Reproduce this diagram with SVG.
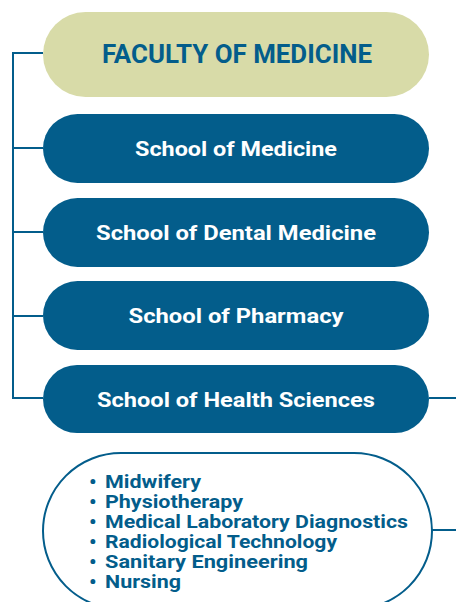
<svg xmlns="http://www.w3.org/2000/svg" width="456" height="602" viewBox="0 0 456 602">
<style>
.pill{fill:#035d8b}
.lbl{font-family:Roboto,"Liberation Sans",sans-serif;font-weight:bold;font-size:20.5px;fill:#fff;text-anchor:middle}
.ln{stroke:#035d8b;stroke-width:2;fill:none}
.li{font-family:Roboto,"Liberation Sans",sans-serif;font-weight:bold;font-size:19px;fill:#035d8b}
.b{font-size:21px}
</style>
<rect width="456" height="602" fill="#fff"/>
<g id="connectors">
<path class="ln" d="M43 53H13V398H43M13 148H43M13 232H43M13 316H43"/>
<path class="ln" d="M429 398H456M432 530H456"/>
</g>
<g id="faculty">
<rect x="43" y="12" width="386" height="85" rx="42.5" fill="#d8dba8"/>
<text x="237" y="63" font-family="Roboto,'Liberation Sans',sans-serif" font-weight="bold" font-size="25" fill="#035d8b" text-anchor="middle" textLength="270" lengthAdjust="spacingAndGlyphs">FACULTY OF MEDICINE</text>
</g>
<g id="school-medicine">
<rect class="pill" x="43" y="114" width="386" height="69" rx="34.5"/>
<text class="lbl" x="236" y="156" textLength="202" lengthAdjust="spacingAndGlyphs">School of Medicine</text>
</g>
<g id="school-dental">
<rect class="pill" x="43" y="198" width="386" height="69" rx="34.5"/>
<text class="lbl" x="236" y="240" textLength="280" lengthAdjust="spacingAndGlyphs">School of Dental Medicine</text>
</g>
<g id="school-pharmacy">
<rect class="pill" x="43" y="281" width="386" height="69" rx="34.5"/>
<text class="lbl" x="236" y="323" textLength="215" lengthAdjust="spacingAndGlyphs">School of Pharmacy</text>
</g>
<g id="school-health">
<rect class="pill" x="43" y="365" width="386" height="68" rx="34"/>
<text class="lbl" x="236" y="407" textLength="278" lengthAdjust="spacingAndGlyphs">School of Health Sciences</text>
</g>
<g id="programs">
<rect class="ln" x="43" y="453" width="389" height="156" rx="78"/>
<text class="li"><tspan class="b" x="89" y="489">•</tspan><tspan x="105" y="488" textLength="96" lengthAdjust="spacingAndGlyphs">Midwifery</tspan><tspan class="b" x="89" y="509">•</tspan><tspan x="105" y="508" textLength="138" lengthAdjust="spacingAndGlyphs">Physiotherapy</tspan><tspan class="b" x="89" y="529">•</tspan><tspan x="105" y="528" textLength="303" lengthAdjust="spacingAndGlyphs">Medical Laboratory Diagnostics</tspan><tspan class="b" x="89" y="549">•</tspan><tspan x="105" y="548" textLength="232" lengthAdjust="spacingAndGlyphs">Radiological Technology</tspan><tspan class="b" x="89" y="569">•</tspan><tspan x="105" y="568" textLength="203" lengthAdjust="spacingAndGlyphs">Sanitary Engineering</tspan><tspan class="b" x="89" y="589">•</tspan><tspan x="105" y="588" textLength="76" lengthAdjust="spacingAndGlyphs">Nursing</tspan></text>
</g>
</svg>
